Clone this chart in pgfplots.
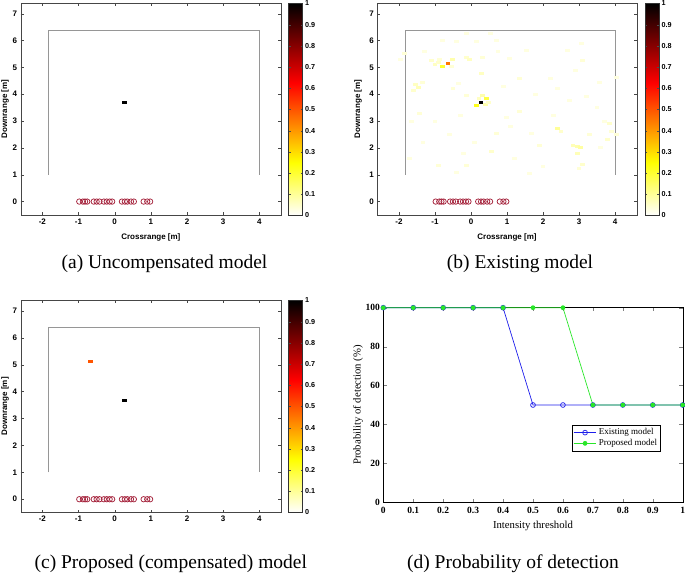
\documentclass[border=0pt]{standalone}
\usepackage{pgfplots}
\pgfplotsset{compat=1.18}
\usepackage{pgfplotstable}
\usepackage{fontspec}
\setmainfont{Liberation Serif}
\setsansfont{Liberation Sans}
\definecolor{wallgray}{RGB}{150,150,150}
\definecolor{antred}{RGB}{165,35,60}
\definecolor{frameC}{RGB}{70,70,70}
\definecolor{blueC}{RGB}{30,30,235}
\definecolor{greenC}{RGB}{40,230,40}
\pgfdeclareplotmark{cell}{\pgfpathrectangle{\pgfpoint{-2.4pt}{-1.5pt}}{\pgfpoint{4.8pt}{3pt}}\pgfusepathqfill}
\pgfplotsset{
  colormap={hotr}{[1pt] rgb255(0pt)=(255,255,255); rgb255(4pt)=(255,255,0); rgb255(10pt)=(255,0,0); rgb255(16pt)=(0,0,0)},
  heat/.style={
    scale only axis, width=260.3pt, height=212pt,
    xmin=-2.6, xmax=4.6, ymin=-0.5, ymax=7.4,
    xtick={-2,-1,0,1,2,3,4}, ytick={0,1,2,3,4,5,6,7},
    tick align=inside, major tick length=3pt,
    axis line style={frameC}, tick style={frameC},
    ticklabel style={font=\sffamily\bfseries\fontsize{8}{9}\selectfont},
    /pgf/number format/assume math mode=true,
    label style={font=\sffamily\bfseries\fontsize{8}{9}\selectfont},
    ylabel={Downrange [m]},
    ylabel style={at={(axis description cs:-0.06,0.5)}, anchor=center},
    colormap name=hotr, point meta min=0, point meta max=1,
    colorbar,
    colorbar style={
      at={(parent axis.north east)}, anchor=north west, xshift=-0.9pt,
      yshift=-0.5pt, height=212pt,
      width=14pt, scale only axis,
      ytick={0,0.1,0.2,0.3,0.4,0.5,0.6,0.7,0.8,0.9,1},
      yticklabels={0,0.1,0.2,0.3,0.4,0.5,0.6,0.7,0.8,0.9,1},
      tick align=inside, major tick length=2pt,
      axis line style={black!80}, tick style={black!70},
      yticklabel style={font=\sffamily\bfseries\fontsize{7.2}{8}\selectfont, xshift=-1pt},
      /pgf/number format/assume math mode=true,
    },
  },
  heatcells/.style={scatter, only marks, mark=cell, point meta=explicit,
    scatter/use mapped color={draw=mapped color, fill=mapped color}},
}
\pgfplotstableread{
x y v
-1.84 5.51 0.04
-1.95 5.30 0.03
-1.10 5.25 0.05
-1.00 5.10 0.06
-0.90 5.20 0.05
-0.87 5.30 0.04
-0.52 5.28 0.08
-0.55 5.05 0.04
-0.40 5.95 0.03
-0.13 5.38 0.05
-0.05 5.30 0.06
-0.13 6.25 0.03
0.15 5.95 0.03
0.55 6.25 0.03
0.75 5.60 0.03
0.33 5.38 0.04
0.29 4.76 0.06
-1.55 4.35 0.06
-1.45 4.25 0.07
-1.60 4.15 0.05
-1.35 4.45 0.04
-0.50 4.20 0.04
-0.35 4.40 0.03
-0.13 3.96 0.04
0.33 3.96 0.08
0.40 3.60 0.08
0.22 3.85 0.06
0.48 3.70 0.05
1.35 4.58 0.04
1.07 5.32 0.03
1.53 5.63 0.03
2.20 4.60 0.03
2.69 5.63 0.03
3.06 5.90 0.03
3.10 5.25 0.04
3.56 4.45 0.03
2.41 4.20 0.03
2.73 3.77 0.03
3.20 3.90 0.03
3.50 3.50 0.03
2.41 2.72 0.10
2.50 2.60 0.05
2.83 2.10 0.07
2.95 2.05 0.08
3.05 2.00 0.09
2.96 1.80 0.07
3.10 1.40 0.05
3.00 1.25 0.04
3.85 2.90 0.05
3.90 2.60 0.04
3.80 2.30 0.05
4.03 2.50 0.04
3.60 2.00 0.03
4.03 4.64 0.03
1.67 2.53 0.03
1.90 2.10 0.04
1.63 1.04 0.03
0.56 1.85 0.05
0.70 2.53 0.04
0.98 3.15 0.03
1.35 3.34 0.04
-0.13 1.35 0.04
-0.40 1.10 0.03
-0.91 1.35 0.04
-1.33 2.22 0.03
-1.65 2.97 0.03
-1.42 3.27 0.04
-1.00 3.00 0.03
-0.60 2.50 0.03
0.10 2.20 0.03
-0.20 1.80 0.03
1.20 1.60 0.03
2.00 1.30 0.03
2.30 3.20 0.03
1.80 4.00 0.03
0.90 4.30 0.03
-0.80 6.00 0.03
-1.30 5.60 0.03
2.90 4.90 0.03
3.70 3.00 0.03
3.30 2.50 0.04
1.10 2.80 0.03
-1.70 1.60 0.03
-0.30 3.20 0.03
0.70 6.00 0.03
-0.78 5.05 0.20
-0.64 5.16 0.45
0.15 3.58 0.22
0.42 3.83 0.18
0.28 3.68 1.00
}\noisyB
\newcommand{\wall}{\addplot[wallgray, line width=1pt] coordinates {(-1.83,1) (-1.83,6.37) (4,6.37) (4,1)};}
\newcommand{\ants}{\addplot[only marks, mark=o, mark size=2.7pt, antred, line width=0.75pt] coordinates {
(-0.98,0) (-0.88,0) (-0.82,0) (-0.76,0) (-0.58,0) (-0.50,0) (-0.42,0) (-0.30,0) (-0.22,0) (-0.14,0) (-0.07,0)
(0.20,0) (0.28,0) (0.35,0) (0.45,0) (0.53,0) (0.80,0) (0.90,0) (0.98,0)};}
\begin{document}
\begin{tikzpicture}
\useasboundingbox (0,0) rectangle (685pt,578pt);
% (a)
\begin{axis}[heat, at={(20.7pt,363pt)}, anchor=south west,
  xlabel={Crossrange [m]}, xlabel style={at={(axis description cs:0.5,-0.106)}, anchor=center}]
\addplot[heatcells] coordinates {(0.28,3.68) [1.0]};
\wall
\ants
\end{axis}
% (b)
\begin{axis}[heat, width=259.4pt, at={(377.3pt,363pt)}, anchor=south west,
  ylabel style={at={(axis description cs:-0.074,0.5)}, anchor=center},
  colorbar style={xshift=0.7pt},
  xlabel={Crossrange [m]}, xlabel style={at={(axis description cs:0.5,-0.106)}, anchor=center}]
\addplot[heatcells] table[x=x, y=y, meta=v] {\noisyB};
\wall
\ants
\end{axis}
% (c)
\begin{axis}[heat, height=212.7pt, at={(20.7pt,65.3pt)}, anchor=south west]
\addplot[heatcells] coordinates {(-0.66,5.12) [0.5] (0.28,3.66) [1.0]};
\wall
\ants
\end{axis}
% (d)
\begin{axis}[at={(383.3pt,75.7pt)}, anchor=south west, scale only axis,
  width=299.4pt, height=194.6pt,
  xmin=0, xmax=1, ymin=0, ymax=100,
  xtick={0,0.1,0.2,0.3,0.4,0.5,0.6,0.7,0.8,0.9,1},
  xticklabels={0,0.1,0.2,0.3,0.4,0.5,0.6,0.7,0.8,0.9,1},
  ytick={0,20,40,60,80,100},
  tick align=inside, major tick length=3.5pt,
  ticklabel style={font=\bfseries\fontsize{9.5}{11}\selectfont},
  xticklabel style={yshift=-1.5pt},
  /pgf/number format/assume math mode=true,
  label style={font=\fontsize{10.7}{12}\selectfont},
  xlabel={Intensity threshold}, ylabel={Probability of detection (\%)},
  xlabel style={at={(axis description cs:0.5,-0.122)}, anchor=center},
  ylabel style={at={(axis description cs:-0.0845,0.5)}, anchor=center},
  legend style={at={(0.629,0.397)}, anchor=north west, draw=black,
    font=\fontsize{9}{10}\selectfont, inner sep=1.5pt, row sep=-1pt},
  legend cell align=left,
  legend image code/.code={\draw[mark repeat=2, mark phase=2, #1] plot coordinates {(0cm,0cm) (0.4cm,0cm) (0.8cm,0cm)};},
]
\addplot[blueC, mark=o, mark size=2.4pt, line width=0.7pt] coordinates {
(0,100) (0.1,100) (0.2,100) (0.3,100) (0.4,100) (0.5,50) (0.6,50) (0.7,50) (0.8,50) (0.9,50) (1,50)};
\addplot[greenC, mark=*, mark size=2pt, line width=0.7pt] coordinates {
(0,100) (0.1,100) (0.2,100) (0.3,100) (0.4,100) (0.5,100) (0.6,100) (0.7,50) (0.8,50) (0.9,50) (1,50)};
\legend{Existing model, Proposed model}
\end{axis}
% captions
\node[anchor=base, font=\fontsize{19.5}{22}\selectfont] at (164.5pt,309.5pt) {(a) Uncompensated model};
\node[anchor=base, font=\fontsize{19.5}{22}\selectfont] at (520pt,309.5pt) {(b) Existing model};
\node[anchor=base, font=\fontsize{19.5}{22}\selectfont] at (170.8pt,9.8pt) {(c) Proposed (compensated) model};
\node[anchor=base, font=\fontsize{19.5}{22}\selectfont] at (513pt,9.8pt) {(d) Probability of detection};
\end{tikzpicture}
\end{document}
